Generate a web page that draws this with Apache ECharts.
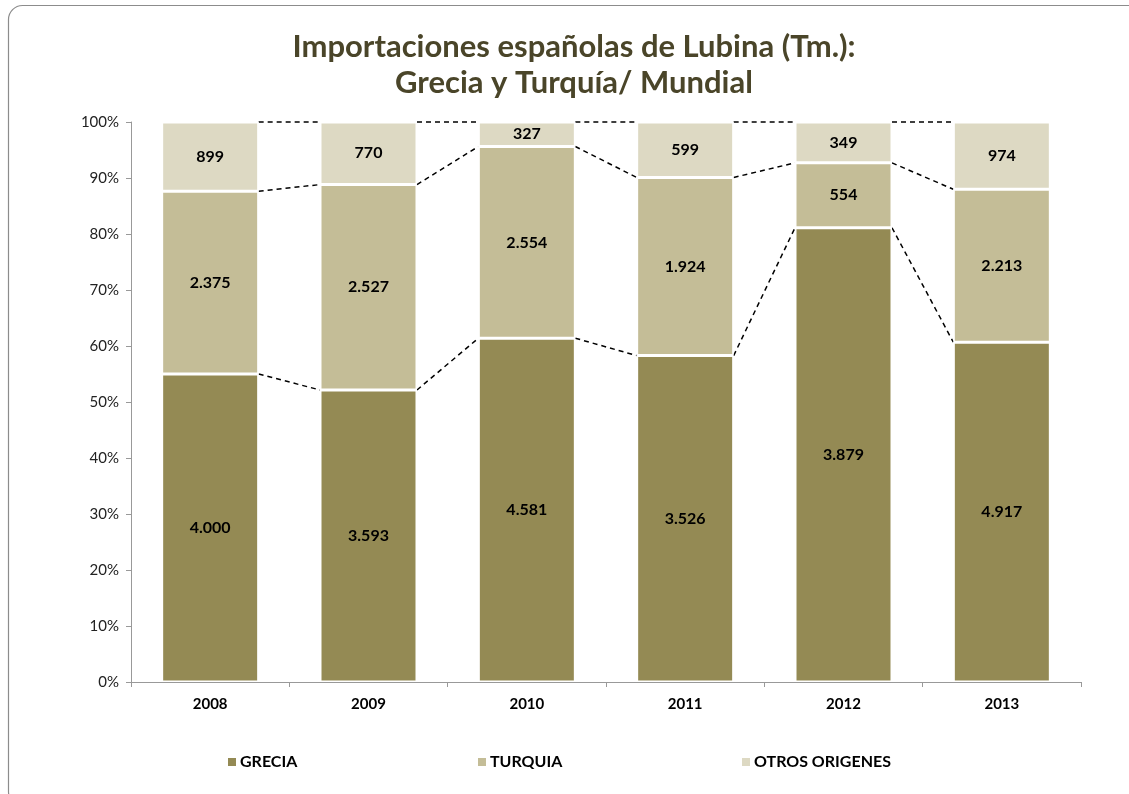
<!DOCTYPE html>
<html>
<head>
<meta charset="utf-8">
<script src="https://cdn.jsdelivr.net/npm/echarts@6/dist/echarts.min.js"></script>
<style>
html,body{margin:0;padding:0;background:#fff;}
#c{width:1129px;height:794px;}
</style>
</head>
<body>
<div id="c"></div>
<script>
var years = ['2008','2009','2010','2011','2012','2013'];
var grecia = [4000, 3593, 4581, 3526, 3879, 4917];
var turquia = [2375, 2527, 2554, 1924, 554, 2213];
var otros = [899, 770, 327, 599, 349, 974];
var yTicks = [0,10,20,30,40,50,60,70,80,90,100];

var colors = ['#948A54', '#C4BD97', '#DDD9C3'];
var raw = [grecia, turquia, otros];
var names = ['GRECIA', 'TURQUIA', 'OTROS ORIGENES'];

var totals = years.map(function(_, i){ return grecia[i] + turquia[i] + otros[i]; });
var pct = raw.map(function(arr){ return arr.map(function(v, i){ return v / totals[i] * 100; }); });

function fmt(v){ return String(v).replace(/\B(?=(\d{3})+(?!\d))/g, '.'); }

// cumulative boundaries for series lines
var cum = [[],[],[]];
for (var i = 0; i < years.length; i++) {
  var s = 0;
  for (var k = 0; k < 3; k++) { s += pct[k][i]; cum[k].push(s); }
}
var lineData = [];
for (var k = 0; k < 3; k++) {
  for (var i = 0; i < years.length - 1; i++) {
    lineData.push([i, cum[k][i], cum[k][i+1]]);
  }
}

var BAR_W = 97;
var chart = echarts.init(document.getElementById('c'));
var barSeries = raw.map(function(arr, k){
  return {
    name: names[k],
    type: 'bar',
    stack: 'total',
    barWidth: BAR_W,
    data: pct[k],
    itemStyle: { color: colors[k], borderColor: '#ffffff', borderWidth: 1.5 },
    label: {
      show: true,
      position: 'inside',
      color: '#000',
      fontFamily: 'Lato',
      fontWeight: 'bold',
      fontSize: 16,
      formatter: function(p){ return fmt(arr[p.dataIndex]); }
    }
  };
});

var legendLefts = [221, 471, 735];
var legends = names.map(function(n, k){
  return {
    data: [n],
    top: 749,
    left: legendLefts[k],
    itemGap: 0,
    itemWidth: 10,
    itemHeight: 10,
    icon: 'rect',
    selectedMode: false,
    textStyle: { color: '#000', fontFamily: 'Lato', fontWeight: 'bold', fontSize: 16, padding: [0,0,0,-2] }
  };
});

var option = {
  backgroundColor: '#ffffff',
  animation: false,
  color: colors,
  graphic: [{
    type: 'rect',
    shape: { x: 8.5, y: 5.5, width: 1135, height: 800, r: 14 },
    style: { fill: 'none', stroke: '#8c8c8c', lineWidth: 1.2 },
    z: -1
  }],
  title: {
    text: 'Importaciones españolas de Lubina (Tm.):\nGrecia y Turquía/ Mundial',
    left: 569,
    textAlign: 'center',
    top: 24,
    textStyle: {
      color: '#4A4529',
      fontFamily: 'Lato',
      fontWeight: 'bold',
      fontSize: 31,
      lineHeight: 36
    }
  },
  legend: legends,
  grid: { left: 131, right: 48, top: 122, bottom: 112 },
  xAxis: {
    type: 'category',
    data: years,
    axisLine: { lineStyle: { color: '#999' } },
    axisTick: { show: true, alignWithLabel: false, length: 5, lineStyle: { color: '#999' } },
    axisLabel: { color: '#000', fontFamily: 'Lato', fontWeight: 'bold', fontSize: 15, margin: 15 }
  },
  yAxis: {
    type: 'value',
    min: 0, max: 100, interval: 10,
    axisLine: { show: true, lineStyle: { color: '#999' } },
    axisTick: { show: true, length: 5, lineStyle: { color: '#999' } },
    splitLine: { show: false },
    axisLabel: { color: '#222', fontFamily: 'Lato', fontSize: 15, margin: 12,
      formatter: function(v){ return yTicks.indexOf(v) >= 0 ? v + '%' : ''; } }
  },
  series: barSeries.concat([{
    type: 'custom',
    silent: true,
    data: lineData,
    encode: { x: 0, y: [1, 2] },
    renderItem: function(params, api){
      var i = api.value(0);
      var p1 = api.coord([i, api.value(1)]);
      var p2 = api.coord([i + 1, api.value(2)]);
      var h = BAR_W / 2;
      return {
        type: 'line',
        shape: { x1: p1[0] + h, y1: p1[1], x2: p2[0] - h, y2: p2[1] },
        style: { stroke: '#000', lineWidth: 1.5, lineDash: [5, 4] }
      };
    }
  }])
};
chart.setOption(option);
</script>
</body>
</html>
